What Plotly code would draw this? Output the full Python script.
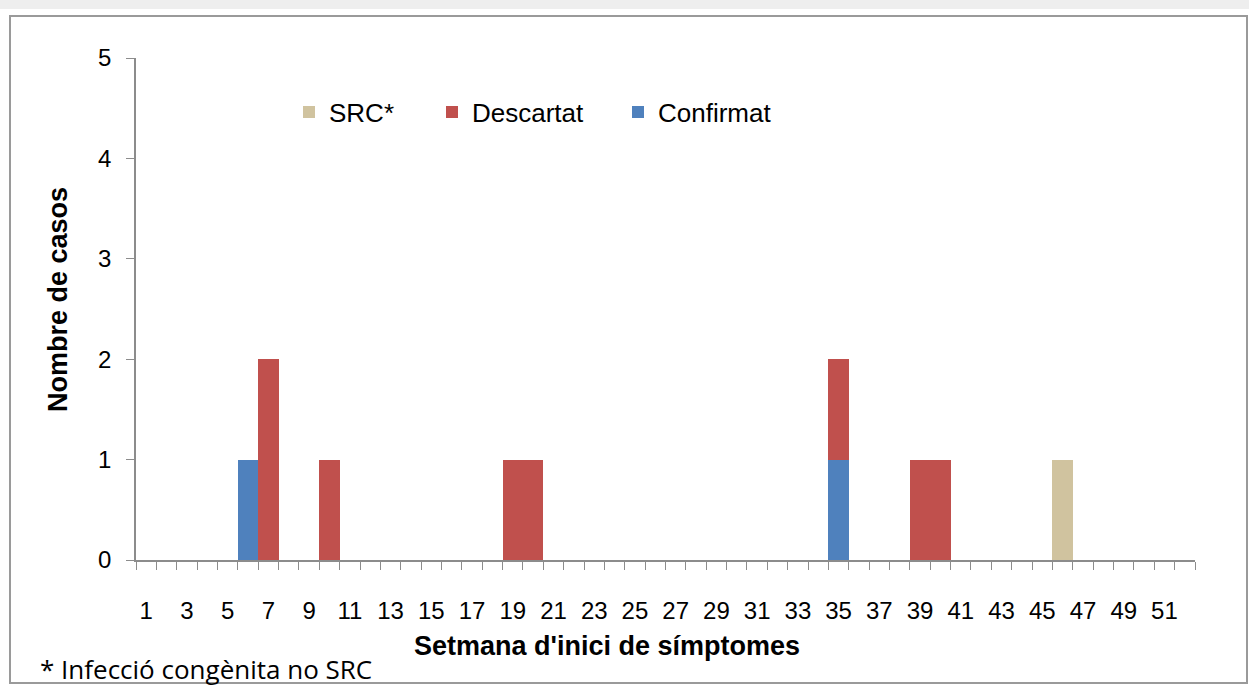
import plotly.graph_objects as go

weeks_confirmat = [6, 35]
vals_confirmat = [1, 1]
weeks_descartat = [7, 10, 19, 20, 35, 39, 40]
vals_descartat = [2, 1, 1, 1, 1, 1, 1]
weeks_src = [46]
vals_src = [1]
tick_weeks = list(range(1, 53, 2))
tick_labels = [str(w) for w in tick_weeks]

W, H = 1249, 686
L, R, T, B = 136, 1195, 58, 560
pw, ph = R - L, B - T


def px(x):
    return (x - L) / pw


def py(y):
    return (B - y) / ph


fig = go.Figure()
fig.add_trace(go.Bar(x=weeks_confirmat, y=vals_confirmat, name="Confirmat",
                     legend="legend3",
                     marker=dict(color="#4F81BD", line=dict(width=0))))
fig.add_trace(go.Bar(x=weeks_descartat, y=vals_descartat, name="Descartat",
                     legend="legend2",
                     marker=dict(color="#C0504D", line=dict(width=0))))
fig.add_trace(go.Bar(x=weeks_src, y=vals_src, name="SRC*",
                     legend="legend",
                     marker=dict(color="#D0C39F", line=dict(width=0))))

leg_common = dict(orientation="h", xanchor="left", yanchor="middle",
                  font=dict(size=26), bgcolor="rgba(0,0,0,0)")

fig.update_layout(
    width=W, height=H,
    margin=dict(l=L, r=W - R, t=T, b=H - B),
    paper_bgcolor="white", plot_bgcolor="white",
    barmode="stack", bargap=0,
    font=dict(family="Liberation Sans, Arial", size=24, color="black"),
    showlegend=True,
    legend=dict(x=px(289), y=py(112), **leg_common),
    legend2=dict(x=px(432), y=py(112), **leg_common),
    legend3=dict(x=px(618), y=py(112), **leg_common),
    xaxis=dict(range=[0.5, 52.5], tickmode="array", tickvals=tick_weeks,
               ticktext=tick_labels, ticks="outside", ticklen=0,
               ticklabelstandoff=28,
               showline=True, linecolor="#8c8c8c", linewidth=1.5,
               showgrid=False, zeroline=False,
               tickfont=dict(size=24),
               minor=dict(tickmode="linear", tick0=0.5, dtick=1, ticks="outside",
                          ticklen=8, tickcolor="#8c8c8c", showgrid=False)),
    yaxis=dict(range=[0, 5], tickmode="linear", tick0=0, dtick=1,
               ticks="outside", ticklen=8, tickcolor="#8c8c8c",
               ticklabelstandoff=10,
               showline=True, linecolor="#8c8c8c", linewidth=1.5,
               showgrid=False, zeroline=False, tickfont=dict(size=24)),
)

fig.add_annotation(x=px(607), y=py(646), xref="paper", yref="paper",
                   text="<b>Setmana d'inici de símptomes</b>", showarrow=False,
                   font=dict(size=27), xanchor="center", yanchor="middle")
fig.add_annotation(x=px(58), y=py(300), xref="paper", yref="paper",
                   text="<b>Nombre de casos</b>", showarrow=False, textangle=-90,
                   font=dict(size=27), xanchor="center", yanchor="middle")
fig.add_annotation(x=px(38), y=py(669), xref="paper", yref="paper",
                   text="* Infecció congènita no SRC", showarrow=False,
                   font=dict(size=26, family="Open Sans, Noto Sans"),
                   xanchor="left", yanchor="middle")

fig.add_shape(type="rect", xref="paper", yref="paper",
              x0=px(0), x1=px(W), y0=py(9), y1=py(0),
              fillcolor="#eeeeee", line=dict(width=0), layer="below")
fig.add_shape(type="rect", xref="paper", yref="paper",
              x0=px(10), x1=px(1247), y0=py(683), y1=py(16),
              fillcolor="rgba(0,0,0,0)", line=dict(color="#9a9a9a", width=2))

fig.write_html("out.html",
               config={"displayModeBar": False},
               post_script="document.body.style.margin='0';"
                           "document.body.style.overflow='hidden';")
